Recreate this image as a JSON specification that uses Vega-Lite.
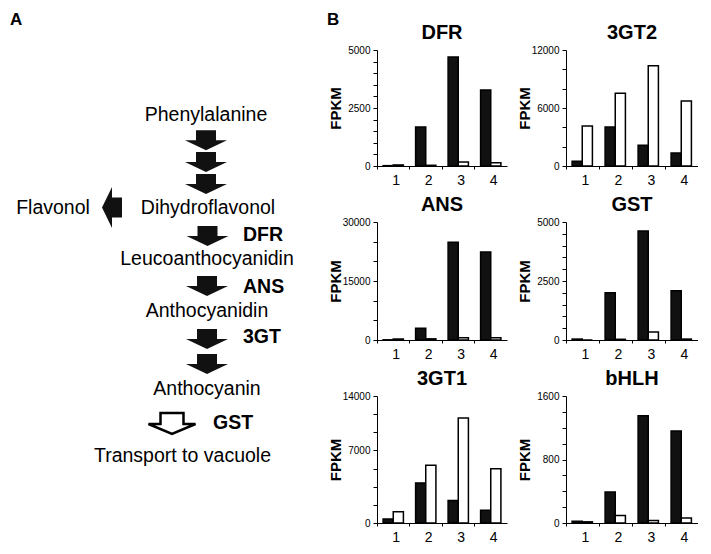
{
  "$schema": "https://vega.github.io/schema/vega-lite/v6.json",
  "padding": {"left": 0, "top": 10, "right": 0, "bottom": 0},
  "autosize": {"type": "pad"},
  "columns": 3,
  "spacing": {"row": 56, "column": 59},
  "bounds": "flush",
  "align": "each",
  "datasets": {
    "pathway": [
      {"kind": "panel", "label": "A", "x": 10, "y": 24},
      {"kind": "panel", "label": "B", "x": 327, "y": 23.5},
      {"kind": "compound", "label": "Phenylalanine", "x": 206, "y": 120},
      {"kind": "compound", "label": "Flavonol", "x": 53, "y": 212.7},
      {"kind": "compound", "label": "Dihydroflavonol", "x": 208, "y": 212.7},
      {"kind": "compound", "label": "Leucoanthocyanidin", "x": 207, "y": 264},
      {"kind": "compound", "label": "Anthocyanidin", "x": 207, "y": 315.7},
      {"kind": "compound", "label": "Anthocyanin", "x": 207, "y": 394},
      {"kind": "compound", "label": "Transport to vacuole", "x": 182.5, "y": 461},
      {"kind": "enzyme", "label": "DFR", "x": 243, "y": 240},
      {"kind": "enzyme", "label": "ANS", "x": 243, "y": 291.7},
      {"kind": "enzyme", "label": "3GT", "x": 243, "y": 342},
      {"kind": "enzyme", "label": "GST", "x": 213, "y": 428},
      {"kind": "step", "label": "", "x": 206, "y": 139.3},
      {"kind": "step", "label": "", "x": 206, "y": 161},
      {"kind": "step", "label": "", "x": 206, "y": 183},
      {"kind": "step", "label": "", "x": 207.5, "y": 235},
      {"kind": "step", "label": "", "x": 207, "y": 285},
      {"kind": "step", "label": "", "x": 207, "y": 338},
      {"kind": "step", "label": "", "x": 207, "y": 363},
      {"kind": "branch", "label": "", "x": 112, "y": 206.5},
      {"kind": "transport", "label": "", "x": 172, "y": 422.5}
    ],
    "fpkm": [
      {"gene": "DFR", "sample": "1", "condition": "pigmented", "value": 15},
      {"gene": "DFR", "sample": "1", "condition": "non-pigmented", "value": 45},
      {"gene": "DFR", "sample": "2", "condition": "pigmented", "value": 1680},
      {"gene": "DFR", "sample": "2", "condition": "non-pigmented", "value": 30},
      {"gene": "DFR", "sample": "3", "condition": "pigmented", "value": 4700},
      {"gene": "DFR", "sample": "3", "condition": "non-pigmented", "value": 175},
      {"gene": "DFR", "sample": "4", "condition": "pigmented", "value": 3275},
      {"gene": "DFR", "sample": "4", "condition": "non-pigmented", "value": 140},
      {"gene": "3GT2", "sample": "1", "condition": "pigmented", "value": 480},
      {"gene": "3GT2", "sample": "1", "condition": "non-pigmented", "value": 4140},
      {"gene": "3GT2", "sample": "2", "condition": "pigmented", "value": 4030},
      {"gene": "3GT2", "sample": "2", "condition": "non-pigmented", "value": 7520},
      {"gene": "3GT2", "sample": "3", "condition": "pigmented", "value": 2140},
      {"gene": "3GT2", "sample": "3", "condition": "non-pigmented", "value": 10380},
      {"gene": "3GT2", "sample": "4", "condition": "pigmented", "value": 1345},
      {"gene": "3GT2", "sample": "4", "condition": "non-pigmented", "value": 6720},
      {"gene": "ANS", "sample": "1", "condition": "pigmented", "value": 50},
      {"gene": "ANS", "sample": "1", "condition": "non-pigmented", "value": 250},
      {"gene": "ANS", "sample": "2", "condition": "pigmented", "value": 2960},
      {"gene": "ANS", "sample": "2", "condition": "non-pigmented", "value": 300},
      {"gene": "ANS", "sample": "3", "condition": "pigmented", "value": 24850},
      {"gene": "ANS", "sample": "3", "condition": "non-pigmented", "value": 600},
      {"gene": "ANS", "sample": "4", "condition": "pigmented", "value": 22400},
      {"gene": "ANS", "sample": "4", "condition": "non-pigmented", "value": 600},
      {"gene": "GST", "sample": "1", "condition": "pigmented", "value": 40},
      {"gene": "GST", "sample": "1", "condition": "non-pigmented", "value": 0},
      {"gene": "GST", "sample": "2", "condition": "pigmented", "value": 2000},
      {"gene": "GST", "sample": "2", "condition": "non-pigmented", "value": 30},
      {"gene": "GST", "sample": "3", "condition": "pigmented", "value": 4620},
      {"gene": "GST", "sample": "3", "condition": "non-pigmented", "value": 336},
      {"gene": "GST", "sample": "4", "condition": "pigmented", "value": 2090},
      {"gene": "GST", "sample": "4", "condition": "non-pigmented", "value": 40},
      {"gene": "3GT1", "sample": "1", "condition": "pigmented", "value": 440},
      {"gene": "3GT1", "sample": "1", "condition": "non-pigmented", "value": 1250},
      {"gene": "3GT1", "sample": "2", "condition": "pigmented", "value": 4420},
      {"gene": "3GT1", "sample": "2", "condition": "non-pigmented", "value": 6375},
      {"gene": "3GT1", "sample": "3", "condition": "pigmented", "value": 2470},
      {"gene": "3GT1", "sample": "3", "condition": "non-pigmented", "value": 11570},
      {"gene": "3GT1", "sample": "4", "condition": "pigmented", "value": 1400},
      {"gene": "3GT1", "sample": "4", "condition": "non-pigmented", "value": 5970},
      {"gene": "bHLH", "sample": "1", "condition": "pigmented", "value": 21},
      {"gene": "bHLH", "sample": "1", "condition": "non-pigmented", "value": 15},
      {"gene": "bHLH", "sample": "2", "condition": "pigmented", "value": 390},
      {"gene": "bHLH", "sample": "2", "condition": "non-pigmented", "value": 94},
      {"gene": "bHLH", "sample": "3", "condition": "pigmented", "value": 1350},
      {"gene": "bHLH", "sample": "3", "condition": "non-pigmented", "value": 30},
      {"gene": "bHLH", "sample": "4", "condition": "pigmented", "value": 1158},
      {"gene": "bHLH", "sample": "4", "condition": "non-pigmented", "value": 64}
    ]
  },
  "concat": [
    {
      "width": 318, "height": 116,
      "data": {"name": "pathway"},
      "encoding": {
        "x": {"field": "x", "type": "quantitative", "scale": {"domain": [0, 318], "nice": false, "zero": false}, "axis": null},
        "y": {"field": "y", "type": "quantitative", "scale": {"domain": [49, 165], "nice": false, "zero": false, "reverse": true}, "axis": null}
      },
      "layer": [
        {"transform": [{"filter": "datum.kind == 'compound'"}], "mark": {"type": "text", "fontSize": 19.5, "align": "center", "baseline": "alphabetic", "color": "#000"}, "encoding": {"text": {"field": "label", "type": "nominal"}}},
        {"transform": [{"filter": "datum.kind == 'enzyme'"}], "mark": {"type": "text", "fontSize": 19.5, "fontWeight": "bold", "align": "left", "baseline": "alphabetic", "color": "#000"}, "encoding": {"text": {"field": "label", "type": "nominal"}}},
        {"transform": [{"filter": "datum.kind == 'panel'"}], "mark": {"type": "text", "fontSize": 17, "fontWeight": "bold", "align": "left", "baseline": "alphabetic", "color": "#000"}, "encoding": {"text": {"field": "label", "type": "nominal"}}},
        {"transform": [{"filter": "datum.kind == 'step'"}], "mark": {"type": "point", "shape": "M-0.476,-0.476 L0.476,-0.476 L0.476,0 L1,0 L0,0.476 L-1,0 L-0.476,0 Z", "size": 1764, "filled": true, "fill": "#111", "opacity": 1, "strokeWidth": 0}},
        {"transform": [{"filter": "datum.kind == 'branch'"}], "mark": {"type": "point", "shape": "M0.476,-0.476 L0.476,0.476 L0,0.476 L0,0.976 L-0.476,0 L0,-0.976 L0,-0.476 Z", "size": 1764, "filled": true, "fill": "#111", "opacity": 1, "strokeWidth": 0}},
        {"transform": [{"filter": "datum.kind == 'transport'"}], "mark": {"type": "point", "shape": "M-0.46,-0.42 L0.46,-0.42 L0.46,0.02 L0.94,0.02 L0,0.42 L-0.94,0.02 L-0.46,0.02 Z", "size": 2500, "filled": true, "fill": "#fff", "stroke": "#000", "strokeWidth": 2.5, "opacity": 1}}
      ]
    },
    {
      "width": 130, "height": 116,
      "title": "DFR",
      "data": {"name": "fpkm"},
      "transform": [{"filter": "datum.gene == 'DFR'"}],
      "mark": {"type": "bar", "stroke": "#000", "strokeWidth": 1.5},
      "encoding": {
        "x": {"field": "sample", "type": "nominal", "scale": {"paddingInner": 0, "paddingOuter": 0}, "axis": {"title": null, "labelAngle": 0, "bandPosition": 0, "labelOffset": 3, "tickSize": 3, "labelPadding": 4, "labelFontSize": 14}},
        "xOffset": {"field": "condition", "type": "nominal", "sort": ["pigmented", "non-pigmented"], "scale": {"paddingInner": 0, "paddingOuter": 0.6}},
        "y": {"field": "value", "type": "quantitative", "scale": {"domain": [0, 5000], "nice": false}, "axis": {"title": "FPKM", "values": [0,500,1000,1500,2000,2500,3000,3500,4000,4500,5000], "labelExpr": "datum.value % 2500 == 0 ? datum.label : ''"}},
        "fill": {"field": "condition", "type": "nominal", "scale": {"domain": ["pigmented", "non-pigmented"], "range": ["#111", "#fff"]}, "legend": null}
      }
    },
    {
      "width": 132, "height": 116,
      "title": "3GT2",
      "data": {"name": "fpkm"},
      "transform": [{"filter": "datum.gene == '3GT2'"}],
      "mark": {"type": "bar", "stroke": "#000", "strokeWidth": 1.5},
      "encoding": {
        "x": {"field": "sample", "type": "nominal", "scale": {"paddingInner": 0, "paddingOuter": 0}, "axis": {"title": null, "labelAngle": 0, "bandPosition": 0, "labelOffset": 3, "tickSize": 3, "labelPadding": 4, "labelFontSize": 14}},
        "xOffset": {"field": "condition", "type": "nominal", "sort": ["pigmented", "non-pigmented"], "scale": {"paddingInner": 0, "paddingOuter": 0.6}},
        "y": {"field": "value", "type": "quantitative", "scale": {"domain": [0, 12000], "nice": false}, "axis": {"title": "FPKM", "values": [0,2000,4000,6000,8000,10000,12000], "labelExpr": "datum.value % 6000 == 0 ? datum.label : ''"}},
        "fill": {"field": "condition", "type": "nominal", "scale": {"domain": ["pigmented", "non-pigmented"], "range": ["#111", "#fff"]}, "legend": null}
      }
    },
    {
      "width": 318, "height": 118,
      "data": {"values": []},
      "mark": {"type": "point", "opacity": 0}
    },
    {
      "width": 130, "height": 118,
      "title": "ANS",
      "data": {"name": "fpkm"},
      "transform": [{"filter": "datum.gene == 'ANS'"}],
      "mark": {"type": "bar", "stroke": "#000", "strokeWidth": 1.5},
      "encoding": {
        "x": {"field": "sample", "type": "nominal", "scale": {"paddingInner": 0, "paddingOuter": 0}, "axis": {"title": null, "labelAngle": 0, "bandPosition": 0, "labelOffset": 3, "tickSize": 3, "labelPadding": 4, "labelFontSize": 14}},
        "xOffset": {"field": "condition", "type": "nominal", "sort": ["pigmented", "non-pigmented"], "scale": {"paddingInner": 0, "paddingOuter": 0.6}},
        "y": {"field": "value", "type": "quantitative", "scale": {"domain": [0, 30000], "nice": false}, "axis": {"title": "FPKM", "values": [0,5000,10000,15000,20000,25000,30000], "labelExpr": "datum.value % 15000 == 0 ? datum.label : ''"}},
        "fill": {"field": "condition", "type": "nominal", "scale": {"domain": ["pigmented", "non-pigmented"], "range": ["#111", "#fff"]}, "legend": null}
      }
    },
    {
      "width": 132, "height": 118,
      "title": "GST",
      "data": {"name": "fpkm"},
      "transform": [{"filter": "datum.gene == 'GST'"}],
      "mark": {"type": "bar", "stroke": "#000", "strokeWidth": 1.5},
      "encoding": {
        "x": {"field": "sample", "type": "nominal", "scale": {"paddingInner": 0, "paddingOuter": 0}, "axis": {"title": null, "labelAngle": 0, "bandPosition": 0, "labelOffset": 3, "tickSize": 3, "labelPadding": 4, "labelFontSize": 14}},
        "xOffset": {"field": "condition", "type": "nominal", "sort": ["pigmented", "non-pigmented"], "scale": {"paddingInner": 0, "paddingOuter": 0.6}},
        "y": {"field": "value", "type": "quantitative", "scale": {"domain": [0, 5000], "nice": false}, "axis": {"title": "FPKM", "values": [0,500,1000,1500,2000,2500,3000,3500,4000,4500,5000], "labelExpr": "datum.value % 2500 == 0 ? datum.label : ''"}},
        "fill": {"field": "condition", "type": "nominal", "scale": {"domain": ["pigmented", "non-pigmented"], "range": ["#111", "#fff"]}, "legend": null}
      }
    },
    {
      "width": 318, "height": 127,
      "data": {"values": []},
      "mark": {"type": "point", "opacity": 0}
    },
    {
      "width": 130, "height": 127,
      "title": "3GT1",
      "data": {"name": "fpkm"},
      "transform": [{"filter": "datum.gene == '3GT1'"}],
      "mark": {"type": "bar", "stroke": "#000", "strokeWidth": 1.5},
      "encoding": {
        "x": {"field": "sample", "type": "nominal", "scale": {"paddingInner": 0, "paddingOuter": 0}, "axis": {"title": null, "labelAngle": 0, "bandPosition": 0, "labelOffset": 3, "tickSize": 3, "labelPadding": 4, "labelFontSize": 14}},
        "xOffset": {"field": "condition", "type": "nominal", "sort": ["pigmented", "non-pigmented"], "scale": {"paddingInner": 0, "paddingOuter": 0.6}},
        "y": {"field": "value", "type": "quantitative", "scale": {"domain": [0, 14000], "nice": false}, "axis": {"title": "FPKM", "values": [0,2000,4000,6000,8000,10000,12000,14000], "labelExpr": "datum.value == 0 ? '0' : datum.value == 8000 ? '7000' : datum.value == 14000 ? '14000' : ''"}},
        "fill": {"field": "condition", "type": "nominal", "scale": {"domain": ["pigmented", "non-pigmented"], "range": ["#111", "#fff"]}, "legend": null}
      }
    },
    {
      "width": 132, "height": 127,
      "title": "bHLH",
      "data": {"name": "fpkm"},
      "transform": [{"filter": "datum.gene == 'bHLH'"}],
      "mark": {"type": "bar", "stroke": "#000", "strokeWidth": 1.5},
      "encoding": {
        "x": {"field": "sample", "type": "nominal", "scale": {"paddingInner": 0, "paddingOuter": 0}, "axis": {"title": null, "labelAngle": 0, "bandPosition": 0, "labelOffset": 3, "tickSize": 3, "labelPadding": 4, "labelFontSize": 14}},
        "xOffset": {"field": "condition", "type": "nominal", "sort": ["pigmented", "non-pigmented"], "scale": {"paddingInner": 0, "paddingOuter": 0.6}},
        "y": {"field": "value", "type": "quantitative", "scale": {"domain": [0, 1600], "nice": false}, "axis": {"title": "FPKM", "values": [0,200,400,600,800,1000,1200,1400,1600], "labelExpr": "datum.value % 800 == 0 ? datum.label : ''"}},
        "fill": {"field": "condition", "type": "nominal", "scale": {"domain": ["pigmented", "non-pigmented"], "range": ["#111", "#fff"]}, "legend": null}
      }
    }
  ],
  "config": {
    "font": "Liberation Sans",
    "view": {"stroke": null},
    "axis": {"grid": false, "domainColor": "#000", "tickColor": "#000", "labelColor": "#000", "titleColor": "#000", "domainWidth": 1, "tickWidth": 1},
    "axisY": {"labelFontSize": 10, "tickSize": 4, "labelPadding": 3, "titleFontSize": 15, "titleFontWeight": "bold", "titleX": -37, "titleBaseline": "alphabetic", "format": "d", "labelOverlap": false},
    "title": {"fontSize": 20, "fontWeight": "bold", "color": "#000", "baseline": "alphabetic", "offset": 2, "anchor": "middle", "frame": "group"}
  }
}
